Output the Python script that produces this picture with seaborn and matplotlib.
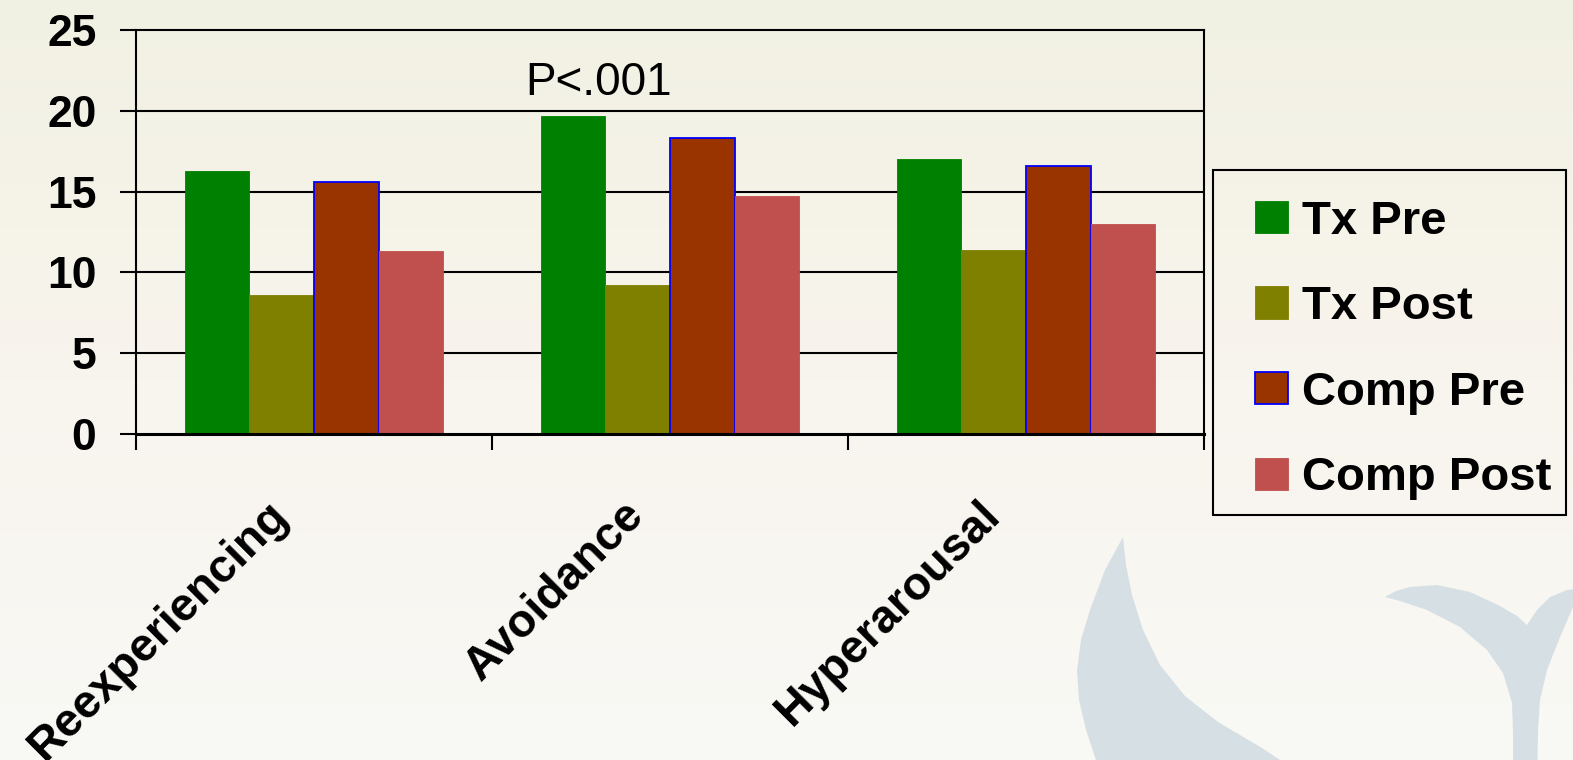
import numpy as np
import pandas as pd
import matplotlib
matplotlib.use("Agg")
import matplotlib.pyplot as plt
import matplotlib.transforms as mtransforms
from matplotlib.patches import Polygon, Rectangle
from matplotlib.legend_handler import HandlerPatch
import seaborn as sns

# ---- data ----
categories = ["Reexperiencing", "Avoidance", "Hyperarousal"]
series = ["Tx Pre", "Tx Post", "Comp Pre", "Comp Post"]
tx_pre = [16.3, 19.7, 17.0]
tx_post = [8.6, 9.2, 11.4]
comp_pre = [15.6, 18.3, 16.6]
comp_post = [11.3, 14.7, 13.0]
y_ticks = [0, 5, 10, 15, 20, 25]
annotation = "P<.001"

colors = ["#008000", "#808000", "#993300", "#C0504D"]
edge_colors = ["#008000", "#808000", "#0000FF", "#C0504D"]

df = pd.DataFrame({
    "category": categories * 4,
    "series": np.repeat(series, len(categories)),
    "value": tx_pre + tx_post + comp_pre + comp_post,
})

sns.set_theme(style="white")
plt.rcParams["font.family"] = ["Liberation Sans", "DejaVu Sans"]
for key in ["text.color", "axes.labelcolor", "xtick.color", "ytick.color"]:
    plt.rcParams[key] = "black"

W, H = 1573, 760
fig = plt.figure(figsize=(W / 100, H / 100), dpi=100)

# ---- slide background: soft vertical gradient with pale leaf shapes ----
bg = fig.add_axes([0, 0, 1, 1])
stops = np.array([[241, 241, 227], [246, 243, 233], [248, 244, 238], [249, 249, 245]]) / 255
pos = np.array([0.0, 0.3, 0.5, 1.0])
yy = np.linspace(0, 1, 400)
grad = np.stack([np.interp(yy, pos, stops[:, c]) for c in range(3)], axis=1)
img = np.repeat(grad[:, None, :], 10, axis=1)
bg.imshow(img, extent=[0, W, H, 0], aspect="auto")
bg.set_xlim(0, W)
bg.set_ylim(H, 0)
bg.axis("off")

leaf_color = "#D6DFE3"
crescent = [(1123, 537), (1105, 570), (1090, 610), (1081, 640), (1077, 670),
            (1079, 700), (1086, 730), (1096, 760), (1102, 780), (1310, 780),
            (1262, 748), (1218, 722), (1185, 696), (1160, 665), (1143, 630),
            (1132, 595), (1126, 565)]
tulip = [(1385, 597), (1396, 591), (1410, 587), (1437, 585), (1470, 592),
         (1500, 606), (1517, 616), (1527, 625), (1537, 610), (1550, 597),
         (1567, 590), (1590, 587), (1590, 605), (1573, 607), (1560, 637),
         (1547, 670), (1540, 700), (1538, 730), (1537, 780), (1513, 780),
         (1513, 730), (1512, 703), (1503, 673), (1487, 650), (1460, 627),
         (1427, 610), (1400, 601)]
for pts in (crescent, tulip):
    bg.add_patch(Polygon(pts, closed=True, facecolor=leaf_color, edgecolor="none"))

# legend frame
bg.add_patch(Rectangle((1213, 170), 1566 - 1213, 515 - 170, facecolor="none",
                       edgecolor="black", linewidth=1.5, zorder=5))

# ---- main chart ----
ax = fig.add_axes([136 / W, 1 - 434 / H, (1204 - 136) / W, (434 - 30) / H])
ax.set_facecolor("none")

sns.barplot(data=df, x="category", y="value", hue="series", hue_order=series,
            order=categories, palette=colors, saturation=1, width=0.725,
            dodge=True, gap=0, ax=ax, zorder=3)

for cont, ec in zip(ax.containers, edge_colors):
    for bar in cont.patches:
        bar.set_edgecolor(ec)
        bar.set_linewidth(1.3 if ec == "#0000FF" else 0.6)

ax.set_xlim(-0.5, len(categories) - 0.5)
ax.set_ylim(0, 25)
ax.set_yticks(y_ticks)
ax.set_xlabel("")
ax.set_ylabel("")

for y in y_ticks[1:-1]:
    ax.axhline(y, color="black", lw=1.5, zorder=1)

for side in ["left", "right", "top"]:
    ax.spines[side].set_visible(True)
    ax.spines[side].set_color("black")
    ax.spines[side].set_linewidth(1.5)
ax.spines["bottom"].set_color("black")
ax.spines["bottom"].set_linewidth(2.2)
ax.spines["bottom"].set_zorder(4)

ax.tick_params(axis="y", direction="out", length=11.5, width=1.5, color="black",
               pad=17, labelsize=32, labelcolor="black", left=True)
for lab in ax.get_yticklabels():
    lab.set_fontweight("bold")

ax.set_xticks(np.arange(len(categories)))
ax.set_xticks(np.arange(len(categories) + 1) - 0.5, minor=True)
ax.tick_params(axis="x", which="major", length=0, pad=42, labelcolor="black")
ax.tick_params(axis="x", which="minor", direction="out", length=11.5, width=1.5,
               color="black", bottom=True)
ax.set_xticklabels(categories, rotation=45, ha="right", va="top",
                   fontsize=33.5, fontweight="bold")
shift = mtransforms.ScaledTranslation(-17 / 100, 0, fig.dpi_scale_trans)
for lab in ax.get_xticklabels():
    lab.set_transform(lab.get_transform() + shift)

ax.text(0.593, 21.0, annotation, fontsize=33, ha="left", va="baseline", zorder=5)

# ---- legend: square swatches ----
if ax.get_legend() is not None:
    ax.get_legend().remove()
handles = [Rectangle((0, 0), 1, 1, facecolor=fc, edgecolor=ec,
                     linewidth=1.3 if ec == "#0000FF" else 0.6)
           for fc, ec in zip(colors, edge_colors)]


def square_patch(legend, orig_handle, xdescent, ydescent, width, height, fontsize):
    side = height
    return Rectangle((-xdescent + width - side, -ydescent), side, side)


leg = fig.legend(handles, series, loc="upper left",
                 bbox_to_anchor=(1218 / W, 1 - 176 / H), borderaxespad=0,
                 frameon=False,
                 prop={"size": 34, "weight": "bold"},
                 handler_map={Rectangle: HandlerPatch(patch_func=square_patch)},
                 handlelength=0.98, handleheight=0.68, handletextpad=0.3,
                 labelspacing=0.88, borderpad=0.5)

fig.savefig("out.png", dpi=100)
